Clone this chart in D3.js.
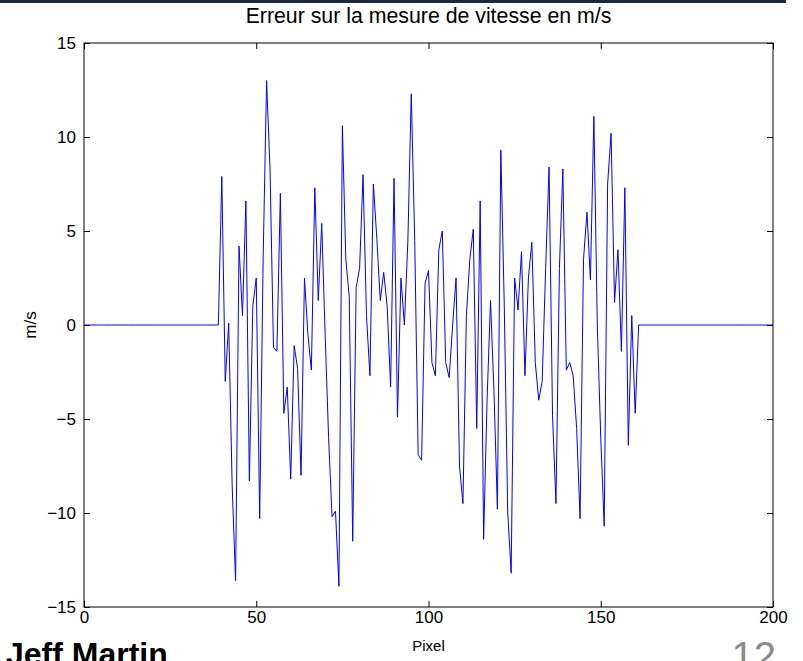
<!DOCTYPE html>
<html>
<head>
<meta charset="utf-8">
<script src="https://cdn.jsdelivr.net/npm/d3@7"></script>
<style>
  body { margin: 0; background: #fff; overflow: hidden; }
  svg { display: block; font-family: "Liberation Sans", Arial, sans-serif; }
</style>
</head>
<body>
<script>
// erreur (m/s) pour chaque pixel 0..200
const pixels = d3.range(0, 201);
const errors = [
  0, 0, 0, 0, 0, 0, 0, 0, 0, 0,
  0, 0, 0, 0, 0, 0, 0, 0, 0, 0,
  0, 0, 0, 0, 0, 0, 0, 0, 0, 0,
  0, 0, 0, 0, 0, 0, 0, 0, 0, 0,
  7.9, -3.0, 0.1, -8.5, -13.6, 4.2, 0.5, 6.6, -8.3, 1.0,
  2.5, -10.3, 3.5, 13.0, 8.3, -1.2, -1.4, 7.0, -4.7, -3.3,
  -8.2, -1.1, -2.3, -8.0, 2.5, -0.5, -2.4, 7.3, 1.3, 5.4,
  -0.5, -6.0, -10.2, -9.9, -13.9, 10.6, 3.5, 1.5, -11.5, 2.0,
  3.0, 8.0, 0.5, -2.7, 7.5, 4.6, 1.3, 2.8, 1.0, -3.3,
  7.8, -4.9, 2.5, 0.0, 4.4, 12.3, 4.5, -6.9, -7.2, 2.2,
  2.9, -2.0, -2.7, 4.0, 5.0, -2.0, -2.8, 0.0, 2.5, -7.5,
  -9.5, 0.5, 3.5, 5.1, -5.5, 6.6, -11.4, -4.0, 1.3, -3.5,
  -9.8, 9.3, 1.0, -10.0, -13.2, 2.5, 0.8, 3.9, -2.7, 2.5,
  4.4, -2.0, -4.0, -3.0, 3.0, 8.4, -4.8, -9.5, 3.0, 8.3,
  -2.4, -2.0, -2.7, -5.5, -10.3, 3.5, 6.0, 2.4, 11.1, 0.0,
  -6.0, -10.7, 7.5, 10.2, 1.2, 4.0, -1.4, 7.3, -6.4, 0.5,
  -4.7, 0, 0, 0, 0, 0, 0, 0, 0, 0,
  0, 0, 0, 0, 0, 0, 0, 0, 0, 0,
  0, 0, 0, 0, 0, 0, 0, 0, 0, 0,
  0, 0, 0, 0, 0, 0, 0, 0, 0, 0,
  0
];
const xTicks = [0, 50, 100, 150, 200];
const yTicks = [-15, -10, -5, 0, 5, 10, 15];

const width = 803;
const height = 661;
const margin = { left: 84, right: 30, top: 43, bottom: 54 };
const plotW = width - margin.left - margin.right;
const plotH = height - margin.top - margin.bottom;

const svg = d3.select('body').append('svg')
  .attr('width', width)
  .attr('height', height);

// bandeau de la diapo
svg.append('line')
  .attr('x1', 0).attr('x2', 786)
  .attr('y1', 1.5).attr('y2', 1.5)
  .attr('stroke', '#1c2840')
  .attr('stroke-width', 3);

const g = svg.append('g')
  .attr('transform', `translate(${margin.left}, ${margin.top})`);

const x = d3.scaleLinear().domain([0, 200]).range([0, plotW]);
const y = d3.scaleLinear().domain([-15, 15]).range([plotH, 0]);

function styleAxis(sel) {
  sel.select('.domain').remove();
  sel.selectAll('line').attr('stroke', '#000');
  sel.selectAll('text')
    .attr('fill', '#000')
    .style('font-size', '17px')
    .style('font-family', '"Liberation Sans", Arial, sans-serif');
}

g.append('g')
  .attr('transform', `translate(0, ${plotH})`)
  .call(d3.axisBottom(x).tickValues(xTicks).tickSizeInner(-6).tickSizeOuter(0).tickPadding(4))
  .call(styleAxis);

g.append('g')
  .call(d3.axisTop(x).tickValues(xTicks).tickSizeInner(-6).tickSizeOuter(0).tickFormat(''))
  .call(styleAxis);

g.append('g')
  .call(d3.axisLeft(y).tickValues(yTicks).tickSizeInner(-6).tickSizeOuter(0).tickPadding(8))
  .call(styleAxis);

g.append('g')
  .attr('transform', `translate(${plotW}, 0)`)
  .call(d3.axisRight(y).tickValues(yTicks).tickSizeInner(-6).tickSizeOuter(0).tickFormat(''))
  .call(styleAxis);

const line = d3.line()
  .x((d, i) => x(pixels[i]))
  .y(d => y(d));

g.append('path')
  .datum(errors)
  .attr('fill', 'none')
  .attr('stroke', '#0000ff')
  .attr('stroke-width', 1)
  .attr('d', line);

g.append('rect')
  .attr('width', plotW)
  .attr('height', plotH)
  .attr('fill', 'none')
  .attr('stroke', '#000')
  .attr('stroke-width', 1);

svg.append('text')
  .attr('x', margin.left + plotW / 2)
  .attr('y', 23)
  .attr('text-anchor', 'middle')
  .style('font-size', '21.3px')
  .text('Erreur sur la mesure de vitesse en m/s');

svg.append('text')
  .attr('x', margin.left + plotW / 2)
  .attr('y', 651)
  .attr('text-anchor', 'middle')
  .style('font-size', '15px')
  .text('Pixel');

svg.append('text')
  .attr('transform', `translate(36, ${margin.top + plotH / 2}) rotate(-90)`)
  .attr('text-anchor', 'middle')
  .style('font-size', '17px')
  .text('m/s');

// restes de la diapo en bas (coupés par le cadre, comme sur l'original)
svg.append('text')
  .attr('x', 6)
  .attr('y', 665)
  .style('font-size', '32px')
  .style('font-weight', 'bold')
  .text('Jeff Martin');

svg.append('text')
  .attr('x', 776)
  .attr('y', 670)
  .attr('text-anchor', 'end')
  .attr('fill', '#8c8c8c')
  .style('font-size', '40px')
  .text('12');
</script>
</body>
</html>
